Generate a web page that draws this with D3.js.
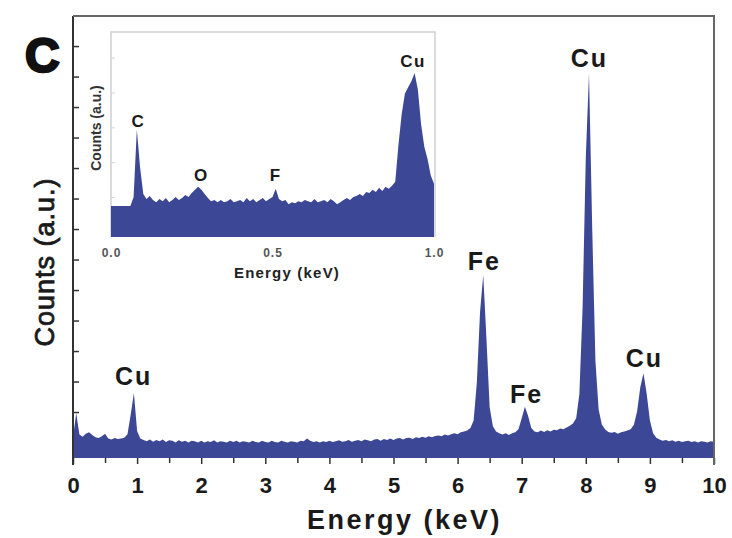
<!DOCTYPE html>
<html>
<head>
<meta charset="utf-8">
<script src="https://cdn.jsdelivr.net/npm/d3@7"></script>
<style>
  body { margin: 0; background: #fff; }
  text { font-family: "Liberation Sans", Arial, sans-serif; }
</style>
</head>
<body>
<div id="myChart"></div>
<script>

// EDS spectrum, main panel: counts every 0.05 keV from 0 to 10 keV
var mainStep = 0.05;
var mainCounts = [
	4.6,10.2,5.3,4.8,5.5,5.8,5.2,4.7,4.5,4.9,5.5,4.4,4.2,4.5,4.3,4.4,4.6,5.4,9.8,14.7,
	6.1,4.4,4.1,3.8,4.2,3.7,4.1,3.8,4.2,3.6,4.0,3.9,3.5,4.0,3.7,3.9,3.5,3.9,3.8,3.5,
	3.9,3.5,3.8,3.6,4.0,3.5,3.8,3.7,3.5,3.9,3.6,3.9,3.5,3.8,3.7,3.5,3.9,3.6,3.5,3.9,
	3.6,3.5,3.9,3.6,3.5,3.9,3.7,3.5,3.8,3.7,3.5,3.9,3.8,4.4,3.9,3.6,3.8,3.5,3.8,3.6,
	3.9,3.6,3.8,4.0,3.7,3.8,4.1,3.7,3.9,4.1,3.8,4.2,4.0,3.8,4.2,4.3,3.9,4.3,4.1,4.4,
	4.1,4.4,4.5,4.2,4.5,4.6,4.3,4.7,4.5,4.8,4.6,4.9,4.7,5.0,5.1,4.9,5.3,5.1,5.4,5.6,
	5.4,5.8,6.0,6.2,6.8,8.5,17.0,33.0,41.4,27.0,11.5,7.2,6.0,5.6,5.3,5.6,5.2,5.6,5.8,6.5,
	9.0,11.6,9.5,6.8,6.0,5.8,6.2,5.9,6.3,6.0,6.4,6.3,6.7,6.5,6.9,7.3,7.8,9.0,14.5,34.0,
	68.0,87.0,52.0,22.0,11.0,7.6,6.5,5.9,5.7,5.9,5.5,5.8,6.0,6.2,6.5,7.5,10.5,16.0,19.2,14.5,
	8.5,5.6,4.6,4.2,3.9,4.1,3.8,4.0,3.7,3.9,3.6,3.8,3.9,3.6,3.8,3.5,3.8,3.7,3.5,3.8,
	3.7
];

// inset: low energy part, counts every 0.01 keV from 0 to 1 keV
var insetStep = 0.01;
var insetCounts = [
	15.1,15.1,15.1,15.1,15.1,15.1,15.1,19.5,52.5,34,
	21,18.5,20,18,17,18.5,17.5,19,17,18,
	19.5,18,19,20.5,19.5,21.5,23,24.5,23,21,
	19,17.5,18,17,18,17,17.5,18.5,17,17.5,
	18,17,19,17.5,18.5,17,18,19,17.5,18.5,
	19.5,23.5,18.5,17.5,18,16,17,16.5,17.5,17,
	18,17.5,17,18.5,17,17.5,18,17,18.5,17.5,
	16,17,18,19,18,19.5,20,21,20,22,
	21.5,23,22,24,22.5,24.5,23.5,25,27,45,
	60,70,73,76,80,72,55,44,38,30,
	26
];

// peak labels
var mainPeaks = [
	{label: "Cu", e: 0.93, y: 16.5},
	{label: "Fe", e: 6.40, y: 42.5},
	{label: "Fe", e: 7.06, y: 12.5},
	{label: "Cu", e: 8.04, y: 88.5},
	{label: "Cu", e: 8.90, y: 20.5}
];
var insetPeaks = [
	{label: "C", e: 0.085, y: 53.5},
	{label: "O", e: 0.28, y: 27.5},
	{label: "F", e: 0.51, y: 27.5},
	{label: "Cu", e: 0.935, y: 83}
];

var xTicksMain = [0,1,2,3,4,5,6,7,8,9,10];
var xMinorMain = [0.5,1.5,2.5,3.5,4.5,5.5,6.5,7.5,8.5,9.5];
var yTicksMain = [10.4,17.3,24.2,31.1,38.0,44.9,51.8,58.7,65.6,72.5,79.4,86.3,93.2];
var xTicksInset = [0, 0.5, 1.0];
var yTicksInset = [19.5, 36.5, 53.5, 70.5, 87.5];


var width = 732;
var height = 538;
var fillColor = "#3c4796";

var svg = d3.select("#myChart")
	.append("svg")
	.attr("width", width)
	.attr("height", height)
	.style("background", "#fff");


// ---------- main panel ----------
var plot = {left: 73, right: 714, top: 16, bottom: 458};

var xScale = d3.scaleLinear()
	.domain([0, 10])
	.range([plot.left, plot.right]);

var yScale = d3.scaleLinear()
	.domain([0, 100])
	.range([plot.bottom, plot.top]);

var mainArea = d3.area()
	.x(function(d, i) { return xScale(i * mainStep); })
	.y0(yScale(0))
	.y1(function(d) { return yScale(d); });

svg.append("path")
	.attr("fill", fillColor)
	.attr("d", mainArea(mainCounts));

// bottom axis: ticks only, no domain line
var xAxis = svg.append("g")
	.attr("transform", "translate(0," + plot.bottom + ")")
	.call(d3.axisBottom(xScale).tickValues(xTicksMain).tickSize(6).tickSizeOuter(0).tickFormat(d3.format("d")));
xAxis.select(".domain").remove();
xAxis.selectAll("line").attr("stroke", "#333").attr("stroke-width", 1.5);
xAxis.selectAll("text")
	.attr("y", 19)
	.attr("dy", "0.71em")
	.style("font-size", "22px")
	.style("font-weight", "bold")
	.attr("fill", "#1a1a1a");

svg.append("g")
	.attr("transform", "translate(0," + plot.bottom + ")")
	.call(d3.axisBottom(xScale).tickValues(xMinorMain).tickSize(5).tickFormat(""))
	.call(function(g) { g.select(".domain").remove(); })
	.selectAll("line").attr("stroke", "#333").attr("stroke-width", 1.5);

// left axis: inner ticks, no labels
svg.append("g")
	.attr("transform", "translate(" + plot.left + ",0)")
	.call(d3.axisRight(yScale).tickValues(yTicksMain).tickSize(6).tickFormat(""))
	.call(function(g) { g.select(".domain").remove(); })
	.selectAll("line").attr("stroke", "#333").attr("stroke-width", 1.5);

// frame
svg.append("line")
	.attr("x1", plot.left).attr("x2", plot.left)
	.attr("y1", plot.top).attr("y2", plot.bottom + 7)
	.attr("stroke", "#333").attr("stroke-width", 2);
svg.append("polyline")
	.attr("points", plot.left + "," + plot.top + " " + plot.right + "," + plot.top + " " + plot.right + "," + (plot.bottom + 7))
	.attr("fill", "none")
	.attr("stroke", "#666").attr("stroke-width", 2);

// axis titles
svg.append("text")
	.attr("x", (plot.left + plot.right) / 2 + 11)
	.attr("y", 529)
	.attr("text-anchor", "middle")
	.style("font-size", "27px")
	.style("font-weight", "bold")
	.style("letter-spacing", "2.5px")
	.attr("fill", "#1a1a1a")
	.text("Energy (keV)");

svg.append("text")
	.attr("transform", "translate(54,262) rotate(-90)")
	.attr("text-anchor", "middle")
	.style("font-size", "27px")
	.style("letter-spacing", "1px")
	.attr("fill", "#1a1a1a")
	.attr("stroke", "#1a1a1a")
	.attr("stroke-width", 0.8)
	.text("Counts (a.u.)");

// panel letter
svg.append("text")
	.attr("x", 25)
	.attr("y", 72)
	.style("font-size", "48px")
	.style("font-weight", "bold")
	.attr("fill", "#111")
	.attr("stroke", "#111")
	.attr("stroke-width", 2.5)
	.text("C");

// peak labels
svg.selectAll(".mainPeak")
	.data(mainPeaks)
	.enter()
	.append("text")
	.attr("class", "mainPeak")
	.attr("x", function(d) { return xScale(d.e) + 1; })
	.attr("y", function(d) { return yScale(d.y); })
	.attr("text-anchor", "middle")
	.style("font-size", "25px")
	.style("font-weight", "bold")
	.style("letter-spacing", "2px")
	.attr("fill", "#1a1a1a")
	.text(function(d) { return d.label; });


// ---------- inset ----------
var inset = {left: 111, right: 434, top: 32, bottom: 237};

var ixScale = d3.scaleLinear()
	.domain([0, 1])
	.range([inset.left, inset.right]);

var iyScale = d3.scaleLinear()
	.domain([0, 100])
	.range([inset.bottom, inset.top]);

var insetArea = d3.area()
	.x(function(d, i) { return ixScale(i * insetStep); })
	.y0(iyScale(0))
	.y1(function(d) { return iyScale(d); });

// light frame
svg.append("polyline")
	.attr("points", inset.left + "," + inset.bottom + " " + inset.left + "," + inset.top + " " + (inset.right + 1) + "," + inset.top + " " + (inset.right + 1) + "," + inset.bottom)
	.attr("fill", "none")
	.attr("stroke", "#cfcfcf").attr("stroke-width", 1.5);

svg.append("g")
	.attr("transform", "translate(" + inset.left + ",0)")
	.call(d3.axisRight(iyScale).tickValues(yTicksInset).tickSize(4).tickFormat(""))
	.call(function(g) { g.select(".domain").remove(); })
	.selectAll("line").attr("stroke", "#d5d5d5");

svg.append("path")
	.attr("fill", fillColor)
	.attr("d", insetArea(insetCounts));

var ixAxis = svg.append("g")
	.attr("transform", "translate(0," + inset.bottom + ")")
	.call(d3.axisBottom(ixScale).tickValues(xTicksInset).tickSize(0).tickFormat(d3.format(".1f")));
ixAxis.select(".domain").remove();
ixAxis.selectAll("text")
	.attr("y", 11)
	.attr("dy", "0.71em")
	.style("font-size", "12px")
	.style("font-weight", "bold")
	.style("letter-spacing", "1px")
	.attr("fill", "#555");

svg.append("text")
	.attr("x", 287)
	.attr("y", 278)
	.attr("text-anchor", "middle")
	.style("font-size", "15px")
	.style("font-weight", "bold")
	.style("letter-spacing", "1.2px")
	.attr("fill", "#222")
	.text("Energy (keV)");

svg.append("text")
	.attr("transform", "translate(101,128) rotate(-90)")
	.attr("text-anchor", "middle")
	.style("font-size", "14px")
	.style("font-weight", "bold")
	.attr("fill", "#333")
	.text("Counts (a.u.)");

svg.selectAll(".insetPeak")
	.data(insetPeaks)
	.enter()
	.append("text")
	.attr("class", "insetPeak")
	.attr("x", function(d) { return ixScale(d.e); })
	.attr("y", function(d) { return iyScale(d.y); })
	.attr("text-anchor", "middle")
	.style("font-size", "17px")
	.style("font-weight", "bold")
	.style("letter-spacing", "1.5px")
	.attr("fill", "#1a1a1a")
	.text(function(d) { return d.label; });

</script>
</body>
</html>
